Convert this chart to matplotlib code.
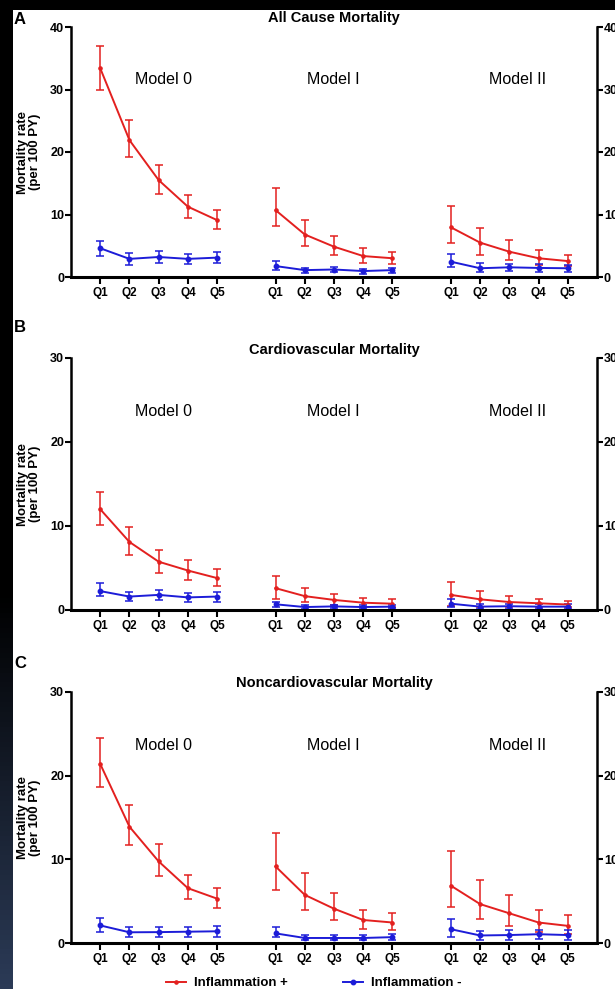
import numpy as np
import matplotlib.pyplot as plt
from matplotlib.patches import Rectangle
from matplotlib.lines import Line2D

plt.rcParams['font.family'] = ['Liberation Sans', 'DejaVu Sans']
plt.rcParams['font.weight'] = 'bold'

'''data'''
quintiles = ['Q1', 'Q2', 'Q3', 'Q4', 'Q5']
models = ['Model 0', 'Model I', 'Model II']
panel_tags = ['A', 'B', 'C']
titles = ['All Cause Mortality', 'Cardiovascular Mortality', 'Noncardiovascular Mortality']
y_tops = [40, 30, 30]

# A: all cause (Model 0, Model I, Model II x Q1..Q5)
a_pos = [33.4, 21.9, 15.5, 11.25, 9.1, 10.7, 6.8, 4.85, 3.35, 3.0, 7.95, 5.5, 4.05, 3.0, 2.55]
a_pos_lo = [30.0, 19.2, 13.3, 9.5, 7.7, 8.1, 5.0, 3.5, 2.2, 2.1, 5.5, 3.5, 2.7, 1.9, 1.75]
a_pos_hi = [36.9, 25.1, 17.9, 13.2, 10.7, 14.2, 9.1, 6.6, 4.6, 4.05, 11.4, 7.9, 5.9, 4.4, 3.6]
a_neg = [4.6, 2.9, 3.2, 2.9, 3.1, 1.75, 1.1, 1.2, 0.95, 1.1, 2.45, 1.4, 1.55, 1.45, 1.4]
a_neg_lo = [3.4, 2.0, 2.3, 2.1, 2.2, 1.2, 0.7, 0.8, 0.55, 0.7, 1.6, 0.85, 0.95, 0.85, 0.8]
a_neg_hi = [5.8, 3.8, 4.1, 3.7, 4.0, 2.6, 1.5, 1.6, 1.35, 1.5, 3.7, 2.2, 2.15, 2.05, 2.0]

# B: cardiovascular
b_pos = [12.0, 8.1, 5.75, 4.7, 3.8, 2.6, 1.65, 1.2, 0.87, 0.75, 1.8, 1.27, 0.95, 0.8, 0.65]
b_pos_lo = [10.1, 6.5, 4.45, 3.6, 2.85, 1.3, 1.0, 0.6, 0.4, 0.35, 0.5, 0.4, 0.3, 0.3, 0.3]
b_pos_hi = [14.1, 9.9, 7.1, 5.9, 4.85, 4.0, 2.65, 1.85, 1.47, 1.27, 3.3, 2.3, 1.65, 1.35, 1.1]
b_neg = [2.25, 1.6, 1.8, 1.5, 1.6, 0.68, 0.35, 0.43, 0.35, 0.4, 0.75, 0.4, 0.45, 0.4, 0.4]
b_neg_lo = [1.65, 1.05, 1.2, 0.95, 1.0, 0.4, 0.15, 0.2, 0.15, 0.2, 0.35, 0.12, 0.15, 0.12, 0.12]
b_neg_hi = [3.2, 2.2, 2.4, 2.05, 2.2, 1.0, 0.55, 0.65, 0.55, 0.6, 1.35, 0.7, 0.75, 0.7, 0.7]

# C: noncardiovascular
c_pos = [21.4, 13.9, 9.75, 6.55, 5.3, 9.15, 5.75, 4.1, 2.75, 2.45, 6.85, 4.65, 3.55, 2.45, 2.05]
c_pos_lo = [18.65, 11.75, 8.0, 5.2, 4.2, 6.35, 3.9, 2.75, 1.65, 1.55, 4.35, 2.9, 2.05, 1.35, 1.1]
c_pos_hi = [24.5, 16.5, 11.85, 8.15, 6.55, 13.2, 8.35, 6.0, 4.0, 3.55, 11.0, 7.55, 5.7, 3.95, 3.35]
c_neg = [2.1, 1.28, 1.3, 1.35, 1.4, 1.15, 0.6, 0.6, 0.6, 0.7, 1.65, 0.9, 0.95, 1.05, 0.95]
c_neg_lo = [1.35, 0.7, 0.7, 0.75, 0.75, 0.7, 0.3, 0.3, 0.3, 0.35, 0.75, 0.4, 0.4, 0.5, 0.4]
c_neg_hi = [3.0, 1.9, 1.9, 1.95, 2.05, 1.9, 0.95, 0.95, 0.95, 1.05, 2.9, 1.45, 1.5, 1.6, 1.5]

panels = [
    (a_pos, a_pos_lo, a_pos_hi, a_neg, a_neg_lo, a_neg_hi),
    (b_pos, b_pos_lo, b_pos_hi, b_neg, b_neg_lo, b_neg_hi),
    (c_pos, c_pos_lo, c_pos_hi, c_neg, c_neg_lo, c_neg_hi),
]

RED = '#e3201f'
BLUE = '#1c1cd8'

'''figure + background'''
fig = plt.figure(figsize=(6.15, 9.89), dpi=100)
fig.patch.set_facecolor('black')
fig.add_artist(Rectangle((13 / 615, 0), 1 - 13 / 615, 1 - 10 / 989, transform=fig.transFigure,
                         facecolor='white', edgecolor='none', zorder=0))

# dark strip on the left, fading to blue-grey at the bottom
gax = fig.add_axes([0, 0, 13 / 615, 1])
t = np.clip((np.linspace(0, 1, 200) - 0.6) / 0.4, 0, 1)
grad = t[:, None, None] * np.array([0.17, 0.23, 0.34])[None, None, :]
gax.imshow(grad, aspect='auto', extent=[0, 1, 0, 1])
gax.axis('off')

positions = [
    [71 / 615, 712 / 989, 526 / 615, 250 / 989],
    [71 / 615, 379 / 989, 526 / 615, 252 / 989],
    [71 / 615, 46 / 989, 526 / 615, 251 / 989],
]
title_y = [1.036, 1.03, 1.034]
tag_y = [19, 328, 663]

x = np.concatenate([np.arange(5) + 6 * g for g in range(3)])
model_x = [2.16, 7.98, 14.28]

'''plotting'''
for i, (pos, pos_lo, pos_hi, neg, neg_lo, neg_hi) in enumerate(panels):
    ax = fig.add_axes(positions[i])
    ax.patch.set_alpha(0)
    pos, pos_lo, pos_hi = np.array(pos), np.array(pos_lo), np.array(pos_hi)
    neg, neg_lo, neg_hi = np.array(neg), np.array(neg_lo), np.array(neg_hi)
    for g in range(3):
        s = slice(5 * g, 5 * g + 5)
        ax.errorbar(x[s], pos[s], yerr=[pos[s] - pos_lo[s], pos_hi[s] - pos[s]],
                    color=RED, lw=1.4, elinewidth=1.1, capsize=3, capthick=1.1,
                    marker='o', ms=2.3, clip_on=False)
        ax.errorbar(x[s], neg[s], yerr=[neg[s] - neg_lo[s], neg_hi[s] - neg[s]],
                    color=BLUE, lw=1.4, elinewidth=1.1, capsize=3, capthick=1.1,
                    marker='o', ms=3.2, clip_on=False)
        ax.text(model_x[g], y_tops[i] * 0.788, models[g], ha='center', va='center',
                fontsize=11.5, fontweight='normal')

    ax.set_xlim(-1, 17)
    ax.set_ylim(0, y_tops[i])
    ax.set_xticks(x)
    ax.set_xticklabels(quintiles * 3)
    ax.set_yticks(np.arange(0, y_tops[i] + 1, 10))
    ax.spines['top'].set_visible(False)
    for side in ['left', 'right']:
        ax.spines[side].set_linewidth(1.8)
    ax.spines['bottom'].set_linewidth(2.2)
    ax.tick_params(axis='y', direction='out', length=4, width=1.5, pad=1, labelsize=9,
                   right=True, labelright=True)
    ax.tick_params(axis='x', direction='out', length=5, width=1.5, pad=2, labelsize=8.5)

    ax.text(0.5, title_y[i], titles[i], transform=ax.transAxes, ha='center', va='center',
            fontsize=10.5, fontweight='bold')
    ax.text(-0.08, 0.5, 'Mortality rate\n(per 100 PY)', transform=ax.transAxes, rotation=90,
            ha='center', va='center', multialignment='center', fontsize=9.5, linespacing=1.0)
    fig.text(20 / 615, 1 - tag_y[i] / 989, panel_tags[i], ha='center', va='center',
             fontsize=12, fontweight='bold')

handles = [Line2D([], [], color=RED, lw=1.4, marker='o', ms=2.3),
           Line2D([], [], color=BLUE, lw=1.4, marker='o', ms=3.2)]
fig.legend(handles, ['Inflammation +', 'Inflammation -'], loc='center',
           bbox_to_anchor=(0.51, 0.006), ncol=2, frameon=False, fontsize=9.5,
           handlelength=1.5, handletextpad=0.6, columnspacing=4.2)

plt.savefig('out.png', dpi=100, facecolor=fig.get_facecolor())
